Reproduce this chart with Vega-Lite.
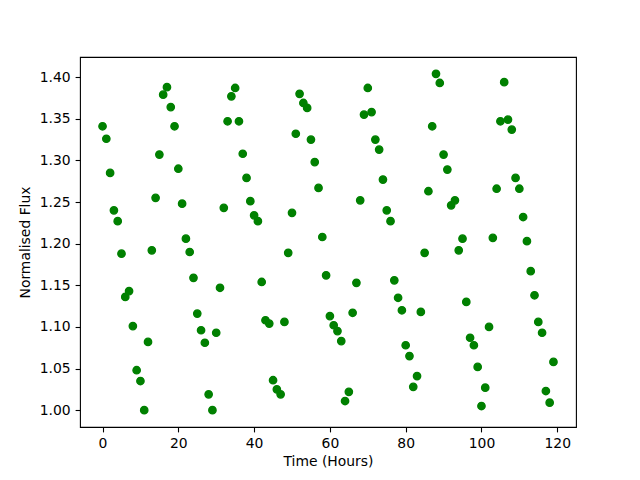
{
  "$schema": "https://vega.github.io/schema/vega-lite/v6.json",
  "width": 496,
  "height": 370,
  "autosize": {"type": "none"},
  "padding": {"left": 80, "top": 57, "right": 64, "bottom": 53},
  "background": "white",
  "config": {
    "view": {"stroke": "black", "strokeWidth": 1.1},
    "font": "DejaVu Sans",
    "axis": {
      "grid": false,
      "domain": false,
      "tickColor": "black",
      "tickSize": 4.9,
      "tickWidth": 1.1,
      "labelColor": "black",
      "labelFont": "DejaVu Sans",
      "labelFontSize": 13.9,
      "labelPadding": 4.9,
      "titleColor": "black",
      "titleFont": "DejaVu Sans",
      "titleFontSize": 13.9,
      "titleFontWeight": "normal"
    }
  },
  "data": {
    "values": [
      {"t":0,"f":1.341},{"t":1,"f":1.326},{"t":2,"f":1.285},{"t":3,"f":1.240},{"t":4,"f":1.227},
      {"t":5,"f":1.188},{"t":6,"f":1.136},{"t":7,"f":1.143},{"t":8,"f":1.101},{"t":9,"f":1.048},
      {"t":10,"f":1.035},{"t":11,"f":1.000},{"t":12,"f":1.082},{"t":13,"f":1.192},{"t":14,"f":1.255},
      {"t":15,"f":1.307},{"t":16,"f":1.379},{"t":17,"f":1.388},{"t":18,"f":1.364},{"t":19,"f":1.341},
      {"t":20,"f":1.290},{"t":21,"f":1.248},{"t":22,"f":1.206},{"t":23,"f":1.190},{"t":24,"f":1.159},
      {"t":25,"f":1.116},{"t":26,"f":1.096},{"t":27,"f":1.081},{"t":28,"f":1.019},{"t":29,"f":1.000},
      {"t":30,"f":1.093},{"t":31,"f":1.147},{"t":32,"f":1.243},{"t":33,"f":1.347},{"t":34,"f":1.377},
      {"t":35,"f":1.387},{"t":36,"f":1.347},{"t":37,"f":1.308},{"t":38,"f":1.279},{"t":39,"f":1.251},
      {"t":40,"f":1.234},{"t":41,"f":1.227},{"t":42,"f":1.154},{"t":43,"f":1.108},{"t":44,"f":1.104},
      {"t":45,"f":1.036},{"t":46,"f":1.025},{"t":47,"f":1.019},{"t":48,"f":1.106},{"t":49,"f":1.189},
      {"t":50,"f":1.237},{"t":51,"f":1.332},{"t":52,"f":1.380},{"t":53,"f":1.369},{"t":54,"f":1.363},
      {"t":55,"f":1.325},{"t":56,"f":1.298},{"t":57,"f":1.267},{"t":58,"f":1.208},{"t":59,"f":1.162},
      {"t":60,"f":1.113},{"t":61,"f":1.102},{"t":62,"f":1.095},{"t":63,"f":1.083},{"t":64,"f":1.011},
      {"t":65,"f":1.022},{"t":66,"f":1.117},{"t":67,"f":1.153},{"t":68,"f":1.252},{"t":69,"f":1.355},
      {"t":70,"f":1.387},{"t":71,"f":1.358},{"t":72,"f":1.325},{"t":73,"f":1.313},{"t":74,"f":1.277},
      {"t":75,"f":1.240},{"t":76,"f":1.227},{"t":77,"f":1.156},{"t":78,"f":1.135},{"t":79,"f":1.120},
      {"t":80,"f":1.078},{"t":81,"f":1.065},{"t":82,"f":1.028},{"t":83,"f":1.041},{"t":84,"f":1.118},
      {"t":85,"f":1.189},{"t":86,"f":1.263},{"t":87,"f":1.341},{"t":88,"f":1.404},{"t":89,"f":1.393},
      {"t":90,"f":1.307},{"t":91,"f":1.289},{"t":92,"f":1.246},{"t":93,"f":1.252},{"t":94,"f":1.192},
      {"t":95,"f":1.206},{"t":96,"f":1.130},{"t":97,"f":1.087},{"t":98,"f":1.078},{"t":99,"f":1.052},
      {"t":100,"f":1.005},{"t":101,"f":1.027},{"t":102,"f":1.100},{"t":103,"f":1.207},{"t":104,"f":1.266},
      {"t":105,"f":1.347},{"t":106,"f":1.394},{"t":107,"f":1.349},{"t":108,"f":1.337},{"t":109,"f":1.279},
      {"t":110,"f":1.266},{"t":111,"f":1.232},{"t":112,"f":1.203},{"t":113,"f":1.167},{"t":114,"f":1.138},
      {"t":115,"f":1.106},{"t":116,"f":1.093},{"t":117,"f":1.023},{"t":118,"f":1.009},{"t":119,"f":1.058}
    ]
  },
  "mark": {"type": "point", "shape": "circle", "filled": true, "color": "#008000", "stroke": "#008000", "strokeWidth": 1.3, "size": 55, "opacity": 1},
  "encoding": {
    "x": {
      "field": "t", "type": "quantitative", "title": "Time (Hours)",
      "scale": {"domain": [-5.95, 124.95], "nice": false, "zero": false},
      "axis": {"values": [0, 20, 40, 60, 80, 100, 120], "titlePadding": 4}
    },
    "y": {
      "field": "f", "type": "quantitative", "title": "Normalised Flux",
      "scale": {"domain": [0.9798, 1.4242], "nice": false, "zero": false},
      "axis": {"values": [1.0, 1.05, 1.1, 1.15, 1.2, 1.25, 1.3, 1.35, 1.4], "format": ".2f", "titlePadding": 7}
    }
  }
}
